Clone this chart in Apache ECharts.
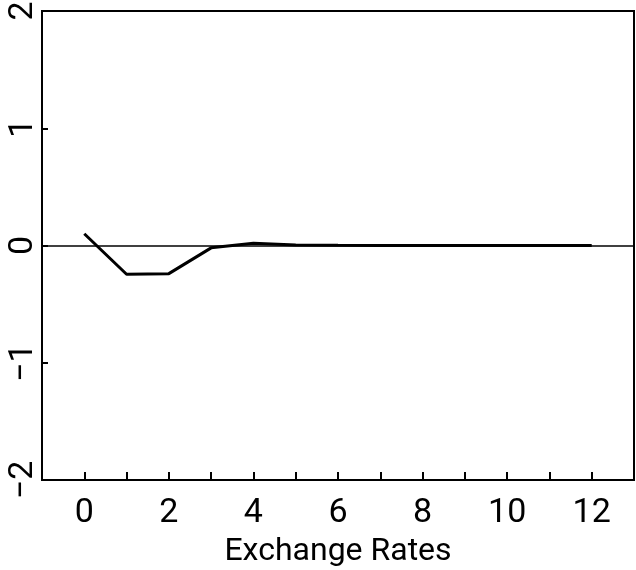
<!DOCTYPE html>
<html>
<head>
<meta charset="utf-8">
<script src="https://cdn.jsdelivr.net/npm/echarts@6/dist/echarts.min.js"></script>
<style>html,body{margin:0;padding:0;background:#fff;}#c{width:636px;height:570px;}</style>
</head>
<body>
<div id="c"></div>
<script>
const xValues = [0, 1, 2, 3, 4, 5, 6, 7, 8, 9, 10, 11, 12];
const yValues = [0.10, -0.245, -0.24, -0.02, 0.02, 0.005, 0.002, 0.0, 0.0, 0.0, 0.0, 0.0, 0.0];
const xTickLabels = [0, 2, 4, 6, 8, 10, 12];
const yTickLabels = [-2, -1, 0, 1, 2];
const xAxisTitle = 'Exchange Rates';

const chart = echarts.init(document.getElementById('c'), null, {renderer: 'canvas'});
const font = 'Roboto, "DejaVu Sans", sans-serif';
chart.setOption({
  animation: false,
  backgroundColor: '#fff',
  grid: {left: 42, right: 2, top: 11, bottom: 90, containLabel: false, outerBoundsMode: 'none',
         show: true, borderColor: '#000', borderWidth: 2, backgroundColor: 'transparent'},
  xAxis: {
    type: 'value', min: -1, max: 13, interval: 1,
    name: xAxisTitle, nameLocation: 'middle', nameGap: 56,
    nameTextStyle: {fontFamily: font, fontSize: 32, color: '#000', fontWeight: 'normal'},
    axisLine: {show: true, onZero: false, lineStyle: {color: '#000', width: 2}},
    axisTick: {show: true, inside: true, length: 8, lineStyle: {color: '#000', width: 2}},
    splitLine: {show: false},
    axisLabel: {
      fontFamily: font, fontSize: 34, color: '#000', fontWeight: 'normal', margin: 16,
      formatter: v => xTickLabels.includes(v) ? String(v) : ''
    }
  },
  yAxis: {
    type: 'value', min: -2, max: 2, interval: 1,
    axisLine: {show: true, onZero: false, lineStyle: {color: '#000', width: 2}},
    axisTick: {show: true, inside: true, length: 6, lineStyle: {color: '#000', width: 2}},
    splitLine: {show: false},
    axisLabel: {
      fontFamily: font, fontSize: 34, color: '#000', fontWeight: 'normal', rotate: 90, margin: 2,
      formatter: v => yTickLabels.includes(v) ? (v < 0 ? '\u2212' + Math.abs(v) : String(v)) : ''
    }
  },
  series: [{
    type: 'line',
    data: xValues.map((x, i) => [x, yValues[i]]),
    showSymbol: false,
    symbol: 'none',
    lineStyle: {color: '#000', width: 3},
    markLine: {
      silent: true, symbol: 'none', label: {show: false},
      lineStyle: {color: '#000', width: 1.5, type: 'solid'},
      data: [{yAxis: 0}]
    }
  }]
});
</script>
</body>
</html>
